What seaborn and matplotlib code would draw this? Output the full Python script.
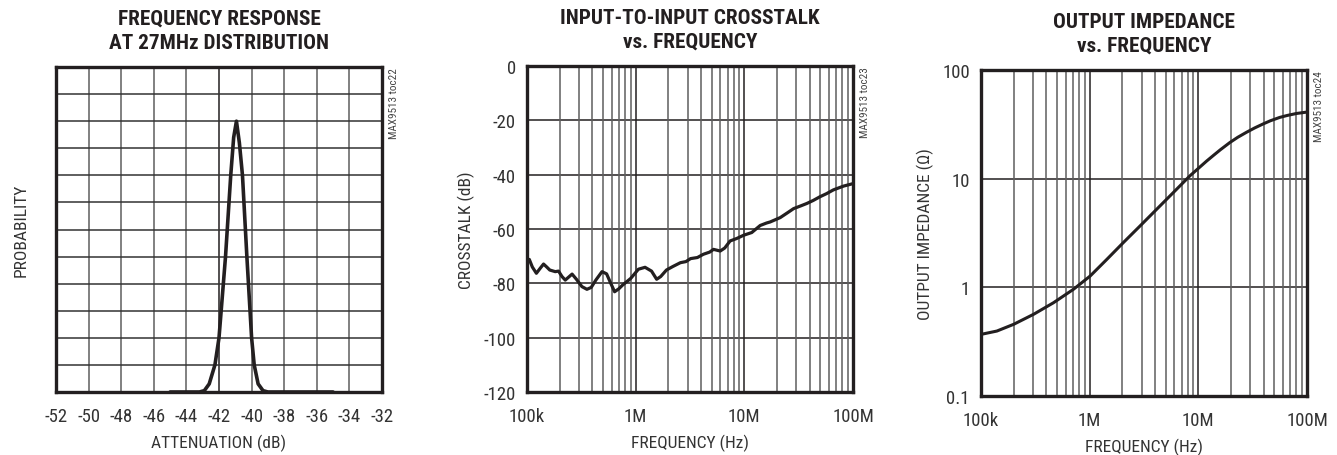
import numpy as np
import pandas as pd
import seaborn as sns
import matplotlib
matplotlib.use("Agg")
import matplotlib.pyplot as plt
from matplotlib import font_manager as fm

# ---------------- data ----------------
att_db = [-45, -43.2, -42.9, -42.6, -42.25, -42.0, -41.6, -41.28, -41.1, -40.93,
          -40.75, -40.56, -40.29, -40.0, -39.84, -39.6, -39.3, -39.0, -35]
prob = [0, 0, 0.05, 0.3, 1.0, 2.0, 5.0, 8.0, 9.4, 10.0,
        9.2, 8.0, 5.0, 2.0, 1.0, 0.3, 0.05, 0, 0]

xt_freq = [1.02e5, 1.05e5, 1.12e5, 1.22e5, 1.32e5, 1.42e5, 1.52e5, 1.62e5, 1.82e5, 1.95e5,
           2.1e5, 2.25e5, 2.45e5, 2.6e5, 2.85e5, 3.2e5, 3.56e5, 3.9e5, 4.3e5, 4.9e5,
           5.4e5, 5.9e5, 6.4e5, 7.0e5, 7.6e5, 9.0e5, 1.06e6, 1.22e6, 1.4e6, 1.56e6,
           1.7e6, 1.92e6, 2.2e6, 2.58e6, 2.9e6, 3.2e6, 3.7e6, 4.2e6, 4.8e6, 5.2e6,
           6.0e6, 6.6e6, 7.4e6, 8.5e6, 9.85e6, 1.17e7, 1.4e7, 1.6e7, 1.73e7, 2.14e7,
           2.5e7, 2.84e7, 3.3e7, 3.76e7, 4.3e7, 4.98e7, 5.7e7, 6.6e7, 8.2e7, 1.0e8]
xt_db = [-71.5, -71.2, -74.0, -76.3, -74.5, -72.9, -74.0, -75.1, -75.7, -75.5,
         -77.5, -78.8, -77.5, -76.6, -78.5, -81.2, -82.2, -81.5, -78.8, -75.7,
         -76.5, -80.0, -83.1, -82.0, -80.6, -78.2, -74.8, -74.1, -75.5, -78.5,
         -77.5, -75.1, -73.8, -72.4, -72.0, -70.9, -70.5, -69.3, -68.5, -67.5,
         -68.1, -67.0, -64.4, -63.5, -62.3, -61.3, -58.7, -57.8, -57.4, -55.8,
         -54.0, -52.5, -51.5, -50.6, -49.5, -48.1, -47.0, -45.6, -44.2, -43.3]

z_freq = [1.0e5, 1.4e5, 2.0e5, 3.05e5, 4.65e5, 7.1e5, 1.01e6, 1.44e6, 2.04e6, 2.9e6,
          4.13e6, 5.87e6, 8.35e6, 1.19e7, 1.37e7, 1.6e7, 1.95e7, 2.3e7, 2.77e7, 3.3e7,
          3.95e7, 4.6e7, 5.6e7, 6.6e7, 8.0e7, 1.0e8]
z_ohm = [0.369, 0.396, 0.457, 0.565, 0.722, 0.96, 1.27, 1.81, 2.58, 3.66,
         5.22, 7.43, 10.6, 14.5, 16.3, 18.5, 21.5, 24.0, 26.7, 29.3,
         31.9, 34.1, 36.6, 38.2, 39.8, 41.0]

att_ticks = [-52, -50, -48, -46, -44, -42, -40, -38, -36, -34, -32]
xt_ticks = [0, -20, -40, -60, -80, -100, -120]
freq_ticks = [1e5, 1e6, 1e7, 1e8]
freq_labels = ["100k", "1M", "10M", "100M"]
z_ticks = [0.1, 1, 10, 100]
z_labels = ["0.1", "1", "10", "100"]

titles = ["FREQUENCY RESPONSE\nAT 27MHz DISTRIBUTION",
          "INPUT-TO-INPUT CROSSTALK\nvs. FREQUENCY",
          "OUTPUT IMPEDANCE\nvs. FREQUENCY"]
xlabels = ["ATTENUATION (dB)", "FREQUENCY (Hz)", "FREQUENCY (Hz)"]
ylabels = ["PROBABILITY", "CROSSTALK (dB)", "OUTPUT IMPEDANCE (\u03A9)"]
marks = ["MAX9513 toc22", "MAX9513 toc23", "MAX9513 toc24"]

# ---------------- style ----------------
sns.set_theme(style="white")
avail = {f.name for f in fm.fontManager.ttflist}
narrow = None
for cand in ["Liberation Sans Narrow", "Roboto Condensed", "Open Sans Condensed", "Liberation Sans"]:
    if cand in avail:
        narrow = cand
        break
plt.rcParams["font.family"] = [narrow, "DejaVu Sans"]

INK = "#231f20"
GRID = "#5e5e5e"

W, H = 1337, 456
fig = plt.figure(figsize=(W / 100, H / 100), dpi=100)

def add_ax(l, t, r, b):
    return fig.add_axes([l / W, (H - b) / H, (r - l) / W, (b - t) / H])

ax1 = add_ax(56, 68, 382, 393)
ax2 = add_ax(527, 67, 853, 393)
ax3 = add_ax(981, 71, 1307, 397)

tick_fs = 13.5
label_fs = 12.5
title_fs = 15.3

# Panel 1
df1 = pd.DataFrame({"att": att_db, "p": prob})
sns.lineplot(data=df1, x="att", y="p", ax=ax1, color=INK, lw=2.6, sort=False)
ax1.set_xlim(-52, -32)
ax1.set_ylim(0, 12)
ax1.set_xticks(att_ticks)
ax1.set_xticklabels([str(v) for v in att_ticks])
ax1.set_yticks(range(13))
ax1.set_yticklabels([])
for v in att_ticks[1:-1]:
    ax1.axvline(v, color=INK if v == -42 else GRID, lw=1.1, zorder=0)
for v in range(1, 12):
    ax1.axhline(v, color="#333333", lw=1.1, zorder=0)

# Panel 2
df2 = pd.DataFrame({"f": xt_freq, "db": xt_db})
sns.lineplot(data=df2, x="f", y="db", ax=ax2, color=INK, lw=2.3, sort=False)
ax2.set_xscale("log")
ax2.set_xlim(1e5, 1e8)
ax2.set_ylim(-120, 0)
ax2.set_yticks(xt_ticks)
ax2.set_yticklabels([str(v) for v in xt_ticks])
for v in xt_ticks[1:-1]:
    ax2.axhline(v, color=INK, lw=1.1, zorder=0)

# Panel 3
df3 = pd.DataFrame({"f": z_freq, "z": z_ohm})
sns.lineplot(data=df3, x="f", y="z", ax=ax3, color=INK, lw=2.2, sort=False)
ax3.set_xscale("log")
ax3.set_yscale("log")
ax3.set_xlim(1e5, 1e8)
ax3.set_ylim(0.1, 100)
ax3.set_yticks(z_ticks)
ax3.set_yticklabels(z_labels)
ax3.minorticks_off()
for v in z_ticks[1:-1]:
    ax3.axhline(v, color=INK, lw=1.1, zorder=0)

for ax in (ax2, ax3):
    ax.set_xticks(freq_ticks)
    ax.set_xticklabels(freq_labels)
    ax.xaxis.set_minor_locator(matplotlib.ticker.NullLocator())
    for dec in [1e5, 1e6, 1e7]:
        for m in range(2, 10):
            ax.axvline(dec * m, color=GRID, lw=1.1, zorder=0)
    for dec in [1e6, 1e7]:
        ax.axvline(dec, color=INK, lw=1.1, zorder=0)

for i, ax in enumerate((ax1, ax2, ax3)):
    ax.grid(False)
    for s in ax.spines.values():
        s.set_visible(True)
        s.set_color(INK)
        s.set_linewidth(2.4)
    ax.tick_params(axis="both", which="both", length=0, labelsize=tick_fs,
                   colors="#333333", pad=8)
    ax.tick_params(axis="x", pad=11)
    ax.set_xlabel(xlabels[i], fontsize=label_fs, color="#333333", labelpad=6)
    ax.set_ylabel(ylabels[i], fontsize=label_fs, color="#333333", labelpad=6)
    ax.set_title(titles[i], fontsize=title_fs, fontweight="bold", color=INK,
                 pad=14, linespacing=1.32)
    ax.text(1.022, 1.0, marks[i], transform=ax.transAxes, rotation=90,
            ha="left", va="top", fontsize=8, color="#444444")

ax1.yaxis.labelpad = 12

fig.savefig("out.png", dpi=100)
